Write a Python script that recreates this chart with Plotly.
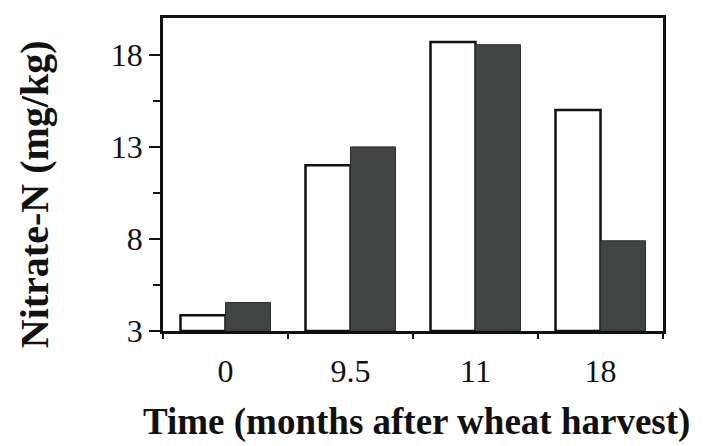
import plotly.graph_objects as go

categories = ["0", "9.5", "11", "18"]
series_open = [3.85, 12.0, 18.7, 15.0]
series_dark = [4.55, 13.0, 18.55, 7.9]
y_ticks = [3, 8, 13, 18]
y_minor = [5.5, 10.5, 15.5]

FONT = "Liberation Serif"

fig = go.Figure()
fig.add_trace(go.Bar(x=categories, y=[v - 3 for v in series_open], base=3,
                     marker=dict(color="white", line=dict(color="#111111", width=2.5)),
                     showlegend=False))
fig.add_trace(go.Bar(x=categories, y=[v - 3 for v in series_dark], base=3,
                     marker=dict(color="#3f4641", line=dict(color="#2a2f2b", width=1)),
                     showlegend=False))

fig.update_layout(
    width=713, height=438,
    margin=dict(l=155, r=58, t=7, b=115),
    paper_bgcolor="white", plot_bgcolor="white",
    barmode="group", bargap=0.28, bargroupgap=0,
    font=dict(family=FONT, color="#111111"),
)
fig.update_xaxes(
    type="category", showline=True, linecolor="#111111", linewidth=2.5, mirror=True,
    ticks="outside", ticklen=5, tickwidth=2, tickcolor="#111111", tickson="boundaries",
    ticklabelstandoff=10,
    tickfont=dict(size=32, family=FONT), showgrid=False, zeroline=False,
)
fig.update_yaxes(
    range=[3, 20], tickvals=y_ticks, showline=True, linecolor="#111111", linewidth=2.5,
    mirror=True, ticks="outside", ticklen=11, tickwidth=2, tickcolor="#111111",
    tickfont=dict(size=32, family=FONT), showgrid=False, zeroline=False,
    minor=dict(tickvals=y_minor, ticks="outside", ticklen=7, tickwidth=2, tickcolor="#111111"),
)
fig.add_annotation(text="<b>Nitrate-N (mg/kg)</b>", xref="paper", yref="paper",
                   x=-0.258, y=0.437, textangle=-90, showarrow=False,
                   font=dict(size=40, family=FONT, color="#111111"),
                   xanchor="center", yanchor="middle", borderpad=0)
fig.add_annotation(text="<b>Time (months after wheat harvest)</b>", xref="paper", yref="paper",
                   x=0.506, y=-0.29, showarrow=False,
                   font=dict(size=37, family=FONT, color="#111111"),
                   xanchor="center", yanchor="middle", borderpad=0)

fig.write_html("out.html")
